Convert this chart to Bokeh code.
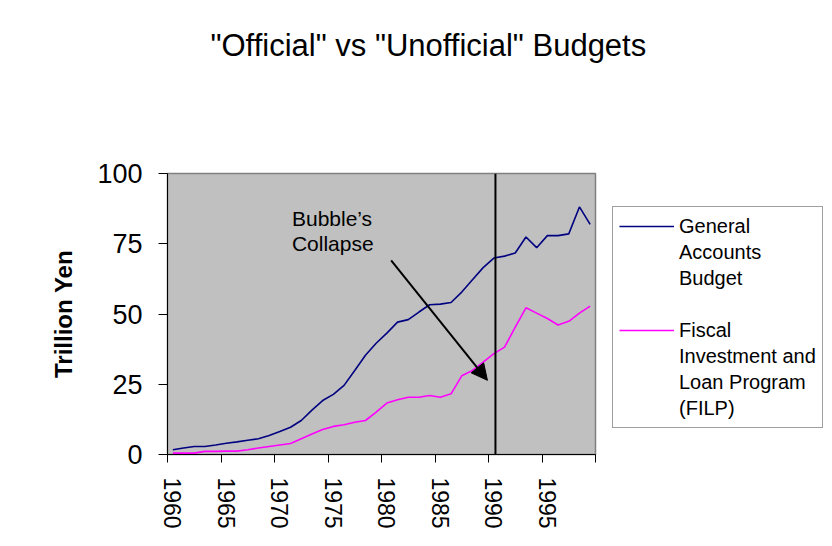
import math
from bokeh.plotting import figure
from bokeh.models import (Range1d, FixedTicker, Span, Label, Arrow, NormalHead,
                          Legend, LegendItem, Title)
from bokeh.embed import file_html
from bokeh.resources import INLINE

# ---- data ----
years = list(range(1960, 2000))
general = [1.7, 2.3, 2.85, 2.85, 3.4, 4.0, 4.5, 5.1, 5.6, 6.8,
           8.2, 9.7, 12.1, 15.8, 19.2, 21.4, 24.6, 29.9, 35.3, 39.6,
           43.2, 47.1, 48.0, 50.7, 53.3, 53.5, 54.1, 57.8, 62.2, 66.5,
           69.9, 70.6, 71.7, 77.4, 73.6, 77.9, 77.9, 78.5, 88.1, 81.9]
filp = [0.5, 0.5, 0.5, 1.1, 1.1, 1.2, 1.2, 1.7, 2.3, 2.85,
        3.4, 3.9, 5.6, 7.3, 8.9, 10.0, 10.6, 11.5, 12.1, 15.1,
        18.3, 19.5, 20.4, 20.4, 21.0, 20.4, 21.6, 28.0, 29.9, 32.9,
        35.9, 38.2, 45.3, 52.2, 50.3, 48.4, 46.1, 47.4, 50.3, 52.8]
y_ticks = [0, 25, 50, 75, 100]
x_label_years = [1960, 1965, 1970, 1975, 1980, 1985, 1990, 1995]
x_boundaries = [1959.5, 1964.5, 1969.5, 1974.5, 1979.5, 1984.5, 1989.5, 1994.5, 1999.5]
collapse_year = 1990.15
general_name_lines = ["General", "Accounts", "Budget"]
filp_name_lines = ["Fiscal", "Investment and", "Loan Program", "(FILP)"]
title_text = '"Official" vs "Unofficial" Budgets'
note_lines = ["Bubble\u2019s", "Collapse"]

FONT = "Liberation Sans"

p = figure(frame_width=428, frame_height=281,
           min_border_left=167, min_border_right=235,
           min_border_top=173, min_border_bottom=90,
           x_range=Range1d(1959.5, 1999.5), y_range=Range1d(0, 100),
           output_backend="svg", toolbar_location=None)
p.background_fill_color = "#C0C0C0"
p.border_fill_color = "white"
p.outline_line_color = "#808080"
p.outline_line_width = 1.5
p.grid.visible = False

# title (left aligned with an offset so it sits centred on the whole chart)
p.title.text = title_text
p.title.align = "left"
p.title.offset = 43
p.title.standoff = 0
p.title.text_font = FONT
p.title.text_font_size = "31px"
p.title.text_font_style = "normal"
p.title.text_color = "black"
# spacer between the title and the plot frame
p.add_layout(Title(text=" ", text_font_size="1px", standoff=108), "above")

# y axis
ya = p.yaxis[0]
ya.ticker = FixedTicker(ticks=y_ticks, minor_ticks=[])
ya.major_label_text_font = FONT
ya.major_label_text_font_size = "27px"
ya.major_label_text_color = "black"
ya.major_tick_out = 9
ya.major_tick_in = 0
ya.major_tick_line_color = "black"
ya.major_label_standoff = 16
ya.axis_line_color = "black"
ya.axis_label = "Trillion Yen"
ya.axis_label_text_font = FONT
ya.axis_label_text_font_style = "bold"
ya.axis_label_text_font_size = "24px"
ya.axis_label_text_color = "black"
ya.axis_label_standoff = 17

# x axis
xa = p.xaxis[0]
xa.ticker = FixedTicker(ticks=x_label_years, minor_ticks=x_boundaries)
xa.major_tick_line_color = None
xa.major_tick_out = 8
xa.major_tick_in = 0
xa.minor_tick_line_color = "black"
xa.minor_tick_out = 8
xa.minor_tick_in = 0
xa.axis_line_color = "black"
xa.major_label_orientation = -math.pi / 2
xa.major_label_standoff = 15
xa.major_label_text_font = FONT
xa.major_label_text_font_size = "23px"
xa.major_label_text_color = "black"

r1 = p.line(years, general, line_color="#000080", line_width=1.6)
r2 = p.line(years, filp, line_color="#FF00FF", line_width=1.6)
# invisible renderer used for the continuation lines of the legend labels
r_blank = p.line(x=[], y=[], line_alpha=0)

p.add_layout(Span(location=collapse_year, dimension="height",
                  line_color="black", line_width=2))

p.add_layout(Arrow(end=NormalHead(size=16, fill_color="black", line_color="black"),
                   x_start=1980.4, y_start=69.1, x_end=1989.4, y_end=26.4,
                   line_color="black", line_width=2))

p.add_layout(Label(x=1971.13, y=83.9, text=note_lines[0], text_font=FONT,
                   text_font_size="21px", text_baseline="alphabetic", text_color="black"))
p.add_layout(Label(x=1971.13, y=75.2, text=note_lines[1], text_font=FONT,
                   text_font_size="21px", text_baseline="alphabetic", text_color="black"))

items = [LegendItem(label=general_name_lines[0], renderers=[r1])]
items += [LegendItem(label=t, renderers=[r_blank]) for t in general_name_lines[1:]]
items += [LegendItem(label=" ", renderers=[r_blank])]
items += [LegendItem(label=filp_name_lines[0], renderers=[r2])]
items += [LegendItem(label=t, renderers=[r_blank]) for t in filp_name_lines[1:]]

legend = Legend(items=items, location=(17, 26), label_text_font=FONT,
                label_text_font_size="20px", label_text_color="black",
                glyph_width=55, glyph_height=26, label_height=26,
                label_standoff=5, padding=6, spacing=0, margin=0,
                border_line_color="#404040", border_line_width=1.5,
                background_fill_color="white", background_fill_alpha=1.0)
p.add_layout(legend, "right")

open("out.html", "w").write(file_html(p, INLINE))
